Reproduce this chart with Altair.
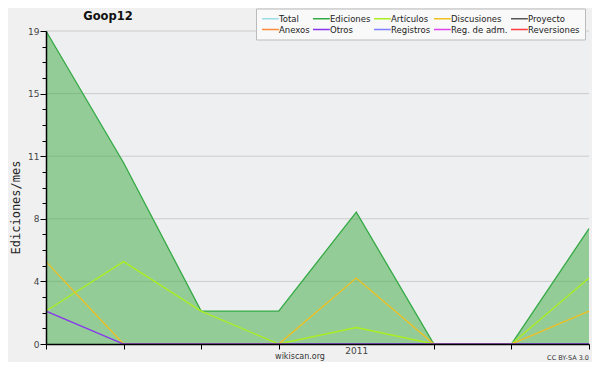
import altair as alt
import pandas as pd

# ---- data ----
month_idx = [0, 1, 2, 3, 4, 5, 6, 7]
x_labels = ["", "", "", "", "2011", "", "", ""]

ediciones = [19, 11, 2, 2, 8, 0, 0, 7]
articulos = [2, 5, 2, 0, 1, 0, 0, 4]
discusiones = [5, 0, 0, 0, 4, 0, 0, 2]
otros = [2, 0, 0, 0, 0, 0, 0, 0]

legend_names = ["Total", "Ediciones", "Artículos", "Discusiones", "Proyecto",
                "Anexos", "Otros", "Registros", "Reg. de adm.", "Reversiones"]
legend_colors = ["#99dde6", "#33aa44", "#aaee22", "#f0c020", "#555555",
                 "#ff8c3a", "#8833ee", "#7f7fff", "#dd44ee", "#ff3b3b"]

y_major = [0, 3.8, 7.6, 11.4, 15.2, 19]
y_ticks = [0, 0.95, 1.9, 2.85, 3.8, 4.75, 5.7, 6.65, 7.6, 8.55, 9.5, 10.45,
           11.4, 12.35, 13.3, 14.25, 15.2, 16.15, 17.1, 18.05, 19]

series = [("Ediciones", ediciones), ("Artículos", articulos),
          ("Discusiones", discusiones), ("Otros", otros)]

rows = []
for name, vals in series:
    for i, v in zip(month_idx, vals):
        rows.append({"m": i, "serie": name, "v": v})
long_df = pd.DataFrame(rows)
ed_df = pd.DataFrame({"m": month_idx, "v": ediciones})
grid_df = pd.DataFrame({"m": [0] * (len(y_major) - 1), "v": y_major[1:]})

FONT = "DejaVu Sans"
major_list = "[" + ",".join(str(v) for v in y_major) + "]"
is_major = f"indexof({major_list}, datum.value) >= 0"
xlab_list = "[" + ",".join(f"'{s}'" for s in x_labels) + "]"

xscale = alt.Scale(domain=[0, 7], nice=False, zero=False)
yscale = alt.Scale(domain=[0, 19], nice=False)

x_axis = alt.Axis(
    values=month_idx, labelExpr=f"{xlab_list}[datum.value]",
    tickSize=5, tickColor="black", domainColor="black", domainWidth=1.5,
    tickOpacity={"condition": {"test": "datum.value == 4", "value": 0}, "value": 1},
    grid=False, labelFont=FONT, labelFontSize=9, labelColor="#444444",
    labelPadding=-3, labelFlush=False, labelOverlap=False, zindex=1,
)
y_axis = alt.Axis(
    values=y_ticks, labelExpr=f"{is_major} ? format(round(datum.value), 'd') : ''",
    tickSize={"condition": {"test": is_major, "value": 6}, "value": 4},
    tickColor="black", domainColor="black", domainWidth=1.5,
    grid=False, labelFont=FONT, labelFontSize=9, labelColor="#444444",
    labelPadding=1, labelOverlap=False, zindex=1,
    titleFont="DejaVu Sans Mono", titleFontSize=12,
    titleFontWeight="normal", titleColor="#222222",
    titleX=-31, titleY=176, titleAlign="center", titleBaseline="middle",
)

X = alt.X("m:Q", scale=xscale, axis=x_axis, title=None)
Y = alt.Y("v:Q", scale=yscale, axis=y_axis, title="Ediciones/mes")

grid = alt.Chart(grid_df).mark_rule(color="#cccccc", strokeWidth=1).encode(y=Y)

area = alt.Chart(ed_df).mark_area(color="#3aa93f", opacity=0.5).encode(x=X, y=Y)

lines = alt.Chart(long_df).mark_line(strokeWidth=1.3).encode(
    x=X,
    y=Y,
    color=alt.Color(
        "serie:N",
        scale=alt.Scale(domain=legend_names, range=legend_colors),
        title=None,
        legend=alt.Legend(
            orient="none", legendX=210, legendY=-22.5, direction="horizontal",
            columns=5, symbolType="M-1,0H3.2", symbolSize=64,
            symbolStrokeWidth=1.5, labelFont=FONT, labelFontSize=8.5,
            labelColor="#222222", labelOffset=8, padding=5, rowPadding=1,
            columnPadding=0, fillColor="#f9f9f9", strokeColor="#bbbbbb",
        ),
    ),
)

title_txt = alt.Chart(pd.DataFrame({"t": ["Goop12"]})).mark_text(
    font=FONT, fontSize=11.5, fontWeight="bold", color="#111111",
    align="center", baseline="alphabetic",
).encode(text="t:N", x=alt.value(62), y=alt.value(-11.5))

site_txt = alt.Chart(pd.DataFrame({"t": ["wikiscan.org"]})).mark_text(
    font=FONT, fontSize=8, color="#333333", align="center", baseline="alphabetic",
).encode(text="t:N", x=alt.value(254), y=alt.value(328))

lic_txt = alt.Chart(pd.DataFrame({"t": ["CC BY-SA 3.0"]})).mark_text(
    font=FONT, fontSize=6.5, color="#333333", align="right", baseline="alphabetic",
).encode(text="t:N", x=alt.value(543), y=alt.value(329))

chart = alt.layer(grid, area, lines, title_txt, site_txt, lic_txt).properties(
    width=543, height=313,
    padding={"left": 38, "top": 23, "right": 3, "bottom": 18},
    autosize=alt.AutoSizeParams(type="none"),
    background="#f0f0f0",
).configure_view(stroke=None, fill="#eeeff1")

chart.save("out.html", embed_options={"renderer": "svg", "actions": False})
